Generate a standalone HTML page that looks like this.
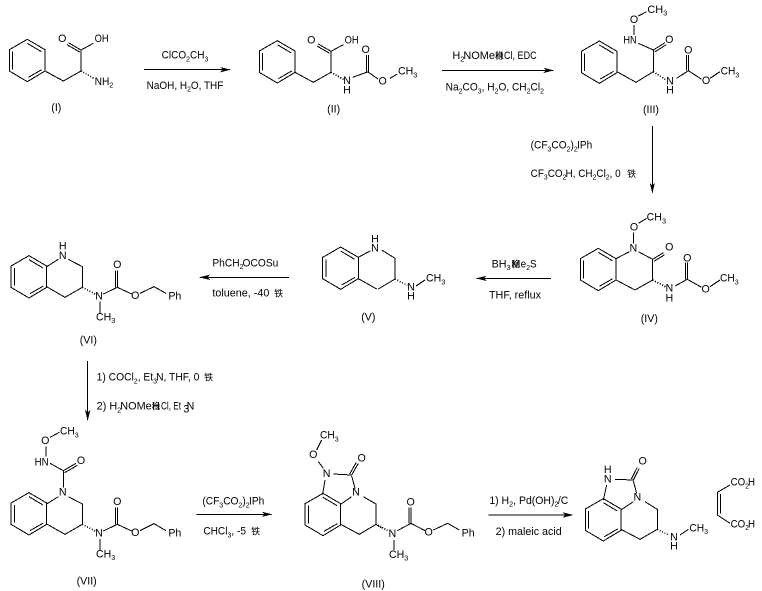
<!DOCTYPE html>
<html><head><meta charset="utf-8">
<style>
html,body{margin:0;padding:0;background:#fff}
svg{display:block}
text{font-family:"Liberation Sans","Noto Sans CJK SC",sans-serif;font-size:32px;fill:#000;dominant-baseline:central}
.a{text-anchor:middle}
.l{fill:none;stroke:#000;stroke-width:3}
.h{fill:none;stroke:#000;stroke-width:5;stroke-dasharray:3 5}
.c{font-size:27px}
</style></head><body>
<svg width="762" height="591" viewBox="0 0 762 591" xmlns="http://www.w3.org/2000/svg">
<defs>
<path id="b" d="M54 0L107 31V95L54 127L0 95V31ZM54 12L96 37M10 37V90M57 114L97 91" fill="none" stroke="#000" stroke-width="3" shape-rendering="crispEdges"/>
<path id="r" d="M0 0L-32 -8L-24 0L-32 8Z"/>
<path id="L" d="M0 0L32 -8L24 0L32 8Z"/>
<path id="d" d="M0 0L-8 -32L0 -24L8 -32Z"/>
</defs>
<rect width="762" height="591" fill="#fff"/>
<g shape-rendering="crispEdges">

<!-- row 1 left: I, II -->
<g transform="translate(0,20) scale(.33333)">
<use href="#b" x="28" y="58"/>
<path class="l" d="M135 153L190 183L243 153V90M243 90L205 68M239 96L201 74M243 90L280 70"/>
<path class="h" d="M243 153L282 175"/>
<text class="a" x="187" y="57">O</text>
<text x="284" y="57" textLength="42" lengthAdjust="spacingAndGlyphs">OH</text>
<text x="284" y="186" textLength="56" lengthAdjust="spacingAndGlyphs">NH<tspan dy="8" font-size="22">2</tspan></text>
<text class="a" x="169" y="264">(I)</text>
<path class="l" d="M432 149H690"/>
<use href="#r" x="692" y="149"/>
<text x="485" y="107" textLength="140" lengthAdjust="spacingAndGlyphs">ClCO<tspan dy="8" font-size="22">2</tspan><tspan dy="-8">CH</tspan><tspan dy="8" font-size="22">3</tspan></text>
<text x="440" y="198" textLength="230" lengthAdjust="spacingAndGlyphs">NaOH, H<tspan dy="8" font-size="22">2</tspan><tspan dy="-8">O, THF</tspan></text>

<use href="#b" x="778" y="62"/>
<path class="l" d="M885 157L940 187L993 157V94M993 94L955 72M989 100L951 78M993 94L1030 74"/>
<path class="h" d="M993 157L1032 179"/>
<text class="a" x="934" y="61">O</text>
<text x="1034" y="61" textLength="42" lengthAdjust="spacingAndGlyphs">OH</text>
<text class="a" x="1041" y="183">N</text>
<text class="a" x="1041" y="212">H</text>
<path class="l" d="M1058 172L1105 155V105M1099 155V105"/>
<text class="a" x="1097" y="90">O</text>
<text class="a" x="1001" y="268">(II)</text>
</g>

<!-- row 1 right: II end, III, arrow 3 -->
<g transform="translate(380,0) scale(.33333)">
<path class="l" d="M-36 216L-6 237M30 235L52 222"/>
<text class="a" x="8" y="245">O</text>
<text x="54" y="215" textLength="58" lengthAdjust="spacingAndGlyphs">CH<tspan dy="8" font-size="22">3</tspan></text>
<path class="l" d="M186 211H520"/>
<use href="#r" x="522" y="211"/>
<text x="217" y="168" textLength="128" lengthAdjust="spacingAndGlyphs">H<tspan dy="8" font-size="22">2</tspan><tspan dy="-8" dx="-3">NOMe</tspan></text>
<text class="c a" x="358" y="168">稳</text>
<text class="a" x="358" y="168" font-size="24">H</text>
<text x="372" y="168" textLength="98" lengthAdjust="spacingAndGlyphs">Cl, EDC</text>
<text x="197" y="263" textLength="295" lengthAdjust="spacingAndGlyphs">Na<tspan dy="8" font-size="22">2</tspan><tspan dy="-8">CO</tspan><tspan dy="8" font-size="22">3</tspan><tspan dy="-8">, H</tspan><tspan dy="8" font-size="22">2</tspan><tspan dy="-8">O, CH</tspan><tspan dy="8" font-size="22">2</tspan><tspan dy="-8">Cl</tspan><tspan dy="8" font-size="22">2</tspan></text>

<use href="#b" x="604" y="123"/>
<path class="l" d="M711 215L768 247L820 215V150M820 150L855 128M824 156L859 134M820 150L775 130M762 105V75M775 48L800 35M890 235L925 212V165M919 212V165M925 212L965 238M990 235L1020 215"/>
<path class="h" d="M820 215L858 240"/>
<text x="730" y="122" textLength="40" lengthAdjust="spacingAndGlyphs">HN</text>
<text class="a" x="762" y="60">O</text>
<text x="802" y="30" textLength="60" lengthAdjust="spacingAndGlyphs">CH<tspan dy="8" font-size="22">3</tspan></text>
<text class="a" x="868" y="120">O</text>
<text class="a" x="870" y="245">N</text>
<text class="a" x="870" y="272">H</text>
<text class="a" x="925" y="152">O</text>
<text class="a" x="978" y="243">O</text>
<text x="1022" y="215" textLength="56" lengthAdjust="spacingAndGlyphs">CH<tspan dy="8" font-size="22">3</tspan></text>
<text class="a" x="813" y="330">(III)</text>
<path class="l" d="M817 378V578"/>
<use href="#d" x="817" y="580"/>
<text x="452" y="437" textLength="185" lengthAdjust="spacingAndGlyphs">(CF<tspan dy="8" font-size="22">3</tspan><tspan dy="-8">CO</tspan><tspan dy="8" font-size="22">2</tspan><tspan dy="-8">)</tspan><tspan dy="8" font-size="22">2</tspan><tspan dy="-8" dx="-2">IPh</tspan></text>
<text x="452" y="522" textLength="270" lengthAdjust="spacingAndGlyphs">CF<tspan dy="8" font-size="22">3</tspan><tspan dy="-8">CO</tspan><tspan dy="8" font-size="22">2</tspan><tspan dy="-8" dx="-3">H, CH</tspan><tspan dy="8" font-size="22">2</tspan><tspan dy="-8">Cl</tspan><tspan dy="8" font-size="22">2</tspan><tspan dy="-8">, 0</tspan></text>
<text class="c a" x="755" y="522">铁</text>
</g>

<!-- IV, V right part, arrow 4 -->
<g transform="translate(380,200) scale(.33333)">
<use href="#b" x="601" y="145"/>
<path class="l" d="M708 176L748 155M775 155L818 178V240L765 270L708 240M818 178L850 158M822 184L854 164M760 130V98M775 70L800 55M885 258L922 238V188M916 238V188M922 238L965 262M990 260L1020 240"/>
<path class="h" d="M818 240L856 260"/>
<text class="a" x="760" y="145">N</text>
<text class="a" x="762" y="82">O</text>
<text x="800" y="53" textLength="58" lengthAdjust="spacingAndGlyphs">CH<tspan dy="8" font-size="22">3</tspan></text>
<text class="a" x="868" y="143">O</text>
<text class="a" x="868" y="265">N</text>
<text class="a" x="868" y="295">H</text>
<text class="a" x="922" y="175">O</text>
<text class="a" x="977" y="268">O</text>
<text x="1020" y="236" textLength="56" lengthAdjust="spacingAndGlyphs">CH<tspan dy="8" font-size="22">3</tspan></text>
<text class="a" x="808" y="357">(IV)</text>
<path class="l" d="M290 235H513"/>
<use href="#L" x="288" y="235"/>
<text x="335" y="193" textLength="57" lengthAdjust="spacingAndGlyphs">BH<tspan dy="8" font-size="22">3</tspan></text>
<text class="c a" x="408" y="193">稳</text>
<text class="a" x="408" y="193" font-size="24">M</text>
<text x="422" y="193" textLength="48" lengthAdjust="spacingAndGlyphs">e<tspan dy="8" font-size="22">2</tspan><tspan dy="-8">S</tspan></text>
<text x="327" y="286" textLength="156" lengthAdjust="spacingAndGlyphs">THF, reflux</text>
<!-- V right -->
<path class="l" d="M5 150L45 175V237L-5 267M108 258L135 240"/>
<path class="h" d="M45 237L82 256"/>
<text class="a" x="93" y="262">N</text>
<text class="a" x="93" y="290">H</text>
<text x="138" y="236" textLength="58" lengthAdjust="spacingAndGlyphs">CH<tspan dy="8" font-size="22">3</tspan></text>
</g>

<!-- VI, V left, arrow 5 -->
<g transform="translate(0,200) scale(.33333)">
<use href="#b" x="968" y="141"/>
<path class="l" d="M1075 172L1112 152M1075 236L1130 267"/>
<text class="a" x="1125" y="145">N</text>
<text class="a" x="1125" y="118">H</text>
<text class="a" x="1105" y="352">(V)</text>
<path class="l" d="M600 232H867"/>
<use href="#L" x="598" y="232"/>
<text x="637" y="190" textLength="198" lengthAdjust="spacingAndGlyphs">PhCH<tspan dy="8" font-size="22">2</tspan><tspan dy="-8" dx="-3">OCOSu</tspan></text>
<text x="637" y="280" textLength="171" lengthAdjust="spacingAndGlyphs">toluene, -40</text>
<text class="c a" x="836" y="280">铁</text>

<use href="#b" x="33" y="167"/>
<path class="l" d="M140 200L175 178M205 178L247 200V262L195 292L140 260M300 305V340M310 282L352 262V212M346 262V212M352 262L395 282M420 280L462 260L498 280"/>
<path class="h" d="M247 262L285 282"/>
<text class="a" x="188" y="168">N</text>
<text class="a" x="188" y="140">H</text>
<text class="a" x="297" y="290">N</text>
<text x="288" y="352" textLength="58" lengthAdjust="spacingAndGlyphs">CH<tspan dy="8" font-size="22">3</tspan></text>
<text class="a" x="352" y="195">O</text>
<text class="a" x="406" y="288">O</text>
<text x="505" y="290">Ph</text>
<text class="a" x="265" y="422">(VI)</text>
<path class="l" d="M263 483V660"/>
<text x="290" y="533" textLength="308" lengthAdjust="spacingAndGlyphs">1) COCl<tspan dy="8" font-size="22">2</tspan><tspan dy="-8">, Et</tspan><tspan dy="8" font-size="22">3</tspan><tspan dy="-8" dx="-3">N, THF, 0</tspan></text>
<text class="c a" x="626" y="533">铁</text>
</g>

<!-- VII, arrow 7, VIII left -->
<g transform="translate(0,400) scale(.33333)">
<use href="#d" x="263" y="62"/>
<text x="290" y="20" textLength="165" lengthAdjust="spacingAndGlyphs">2) H<tspan dy="8" font-size="22">2</tspan><tspan dy="-8" dx="-3">NOMe</tspan></text>
<text class="c a" x="468" y="20">稳</text>
<text class="a" x="468" y="20" font-size="24">H</text>
<text x="483" y="20" textLength="60" lengthAdjust="spacingAndGlyphs">Cl, Et</text>
<text x="550" y="28" font-size="22">3</text>
<text x="560" y="20">N</text>

<use href="#b" x="33" y="278"/>
<path class="l" d="M140 312L175 290M205 290L247 312V373L195 403L140 372M190 262V212L228 190M194 218L232 196M190 212L150 190M138 170V140M150 112L178 97M300 417V450M310 393L352 373V323M346 373V323M352 373L395 393M420 392L462 371L498 392"/>
<path class="h" d="M247 373L285 393"/>
<text class="a" x="188" y="278">N</text>
<text x="104" y="187" textLength="42" lengthAdjust="spacingAndGlyphs">HN</text>
<text class="a" x="243" y="183">O</text>
<text class="a" x="136" y="123">O</text>
<text x="180" y="95" textLength="56" lengthAdjust="spacingAndGlyphs">CH<tspan dy="8" font-size="22">3</tspan></text>
<text class="a" x="297" y="400">N</text>
<text x="288" y="463" textLength="58" lengthAdjust="spacingAndGlyphs">CH<tspan dy="8" font-size="22">3</tspan></text>
<text class="a" x="352" y="306">O</text>
<text class="a" x="406" y="399">O</text>
<text x="505" y="400">Ph</text>
<text class="a" x="260" y="545">(VII)</text>
<path class="l" d="M590 343H815"/>
<use href="#r" x="817" y="343"/>
<text x="607" y="305" textLength="186" lengthAdjust="spacingAndGlyphs">(CF<tspan dy="8" font-size="22">3</tspan><tspan dy="-8">CO</tspan><tspan dy="8" font-size="22">2</tspan><tspan dy="-8">)</tspan><tspan dy="8" font-size="22">2</tspan><tspan dy="-8" dx="-2">IPh</tspan></text>
<text x="610" y="395" textLength="128" lengthAdjust="spacingAndGlyphs">CHCl<tspan dy="8" font-size="22">3</tspan><tspan dy="-8">, -5</tspan></text>
<text class="c a" x="767" y="395">铁</text>

<use href="#b" x="915" y="280"/>
<path class="l" d="M968 283L975 240M1000 222L1055 225L1075 190M1049 222L1069 187M1055 228L1065 265M1055 290L1022 313M1090 290L1128 312V373L1078 403L1022 373M970 205L955 185M950 150L965 120"/>
<path class="h" d="M1128 373L1146 384"/>
<text class="a" x="980" y="222">N</text>
<text class="a" x="1085" y="175">O</text>
<text class="a" x="1068" y="278">N</text>
<text class="a" x="940" y="165">O</text>
<text x="960" y="107" textLength="56" lengthAdjust="spacingAndGlyphs">CH<tspan dy="8" font-size="22">3</tspan></text>
<text x="1085" y="553">(VIII)</text>
</g>

<!-- VIII right, arrow 8, product, maleic -->
<g transform="translate(380,430) scale(.33333)">
<path class="h" d="M-8 285L26 303"/>
<path class="l" d="M42 330V360M52 302L93 280V232M87 280V232M93 280L135 302M160 300L203 280L238 300"/>
<text class="a" x="37" y="312">N</text>
<text x="27" y="375" textLength="58" lengthAdjust="spacingAndGlyphs">CH<tspan dy="8" font-size="22">3</tspan></text>
<text class="a" x="92" y="218">O</text>
<text class="a" x="146" y="308">O</text>
<text x="245" y="310">Ph</text>
<path class="l" d="M325 255H578"/>
<use href="#r" x="580" y="255"/>
<text x="328" y="213" textLength="237" lengthAdjust="spacingAndGlyphs">1) H<tspan dy="8" font-size="22">2</tspan><tspan dy="-8">, Pd(OH)</tspan><tspan dy="8" font-size="22">2</tspan><tspan dy="-8" dx="-2">/C</tspan></text>
<text x="347" y="306" textLength="198" lengthAdjust="spacingAndGlyphs">2) maleic acid</text>

<use href="#b" x="616" y="206"/>
<path class="l" d="M670 210L680 165M705 148L760 150L778 115M754 147L772 112M760 153L770 190M760 215L723 240M795 215L832 238V298L780 328L723 298"/>
<path class="h" d="M832 298L868 316"/>
<path class="l" d="M900 315L925 298"/>
<text class="a" x="683" y="148">N</text>
<text class="a" x="683" y="120">H</text>
<text class="a" x="788" y="95">O</text>
<text class="a" x="772" y="203">N</text>
<text class="a" x="882" y="322">N</text>
<text class="a" x="882" y="350">H</text>
<text x="928" y="295" textLength="56" lengthAdjust="spacingAndGlyphs">CH<tspan dy="8" font-size="22">3</tspan></text>
<path class="l" d="M1050 165L1012 187V255L1050 280M1022 192V250"/>
<text x="1052" y="158" textLength="73" lengthAdjust="spacingAndGlyphs">CO<tspan dy="8" font-size="22">2</tspan><tspan dy="-8" dx="-3">H</tspan></text>
<text x="1052" y="283" textLength="73" lengthAdjust="spacingAndGlyphs">CO<tspan dy="8" font-size="22">2</tspan><tspan dy="-8" dx="-3">H</tspan></text>
</g>
</g>
</svg>
</body></html>
